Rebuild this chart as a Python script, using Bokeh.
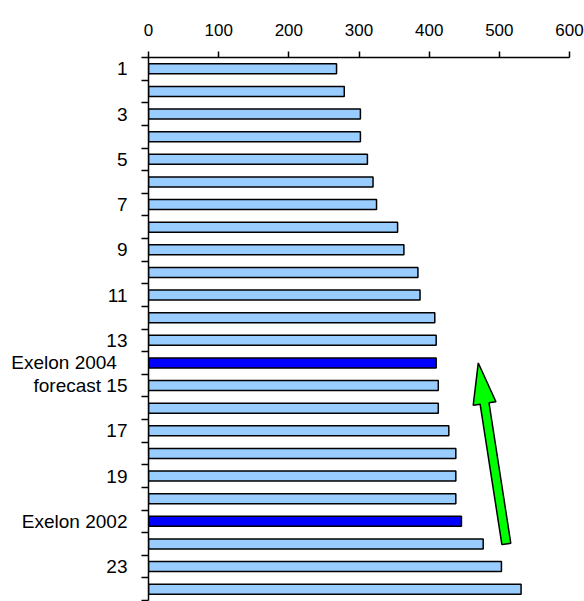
from bokeh.plotting import figure
from bokeh.models import Range1d, FixedTicker
from bokeh.embed import file_html
from bokeh.resources import INLINE
import numpy as np

# Ranked values (rank 1 at the top)
ranks = list(range(1, 25))
values = [268, 279, 302, 302, 312, 320, 325, 355, 364, 384, 387, 408,
          410, 410, 413, 413, 428, 438, 438, 438, 446, 477, 503, 531]
highlight_ranks = [14, 21]          # Exelon entries
labelled_ranks = [1, 3, 5, 7, 9, 11, 13, 14, 15, 17, 19, 21, 23]
rank_labels = {14: "Exelon 2004\u00a0\u00a0", 15: "forecast 15", 21: "Exelon 2002"}
value_ticks = [0, 100, 200, 300, 400, 500, 600]

# Trend arrow, from (value, rank) to (value, rank)
arrow_tail = (510, 22.0)
arrow_tip = (470, 14.0)

FONT = "Liberation Sans"
LIGHT = "#99CCFF"
DARK = "#0000FF"

W, H = 584, 601
LEFT, RIGHT, TOP, BOTTOM = 148, 15, 57, 1

p = figure(width=W, height=H, output_backend="svg", toolbar_location=None,
           x_range=Range1d(0, 600), y_range=Range1d(24.5, 0.5),
           x_axis_location="above",
           min_border_left=LEFT, min_border_right=RIGHT,
           min_border_top=TOP, min_border_bottom=BOTTOM)
p.outline_line_color = None
p.xgrid.visible = False
p.ygrid.visible = False
p.background_fill_color = "white"
p.border_fill_color = "white"

colors = [DARK if r in highlight_ranks else LIGHT for r in ranks]
p.hbar(y=ranks, left=0, right=values, height=0.44,
       fill_color=colors, line_color="black", line_width=1.5)

# arrow outline built in pixel space, then mapped back to data units
sx = (W - LEFT - RIGHT) / 600.0
sy = (H - TOP - BOTTOM) / 24.0
tail = np.array([arrow_tail[0] * sx, arrow_tail[1] * sy])
tip = np.array([arrow_tip[0] * sx, arrow_tip[1] * sy])
d = tip - tail
d = d / np.hypot(*d)
n = np.array([-d[1], d[0]])
head_len, head_half, shaft_half = 41.0, 11.5, 4.5
base = tip - d * head_len
pts = [tail + n * shaft_half, base + n * shaft_half, base + n * head_half, tip,
       base - n * head_half, base - n * shaft_half, tail - n * shaft_half]
ax = [pt[0] / sx for pt in pts]
ay = [pt[1] / sy for pt in pts]
p.patch(ax, ay, fill_color="#00FF00", line_color="black", line_width=1.5)

# value axis on top
xa = p.xaxis[0]
xa.ticker = FixedTicker(ticks=value_ticks)
xa.axis_line_color = "black"
xa.axis_line_width = 1.5
xa.major_tick_line_color = "black"
xa.major_tick_line_width = 1.5
xa.major_tick_out = 6
xa.major_tick_in = 0
xa.minor_tick_line_color = None
xa.major_label_text_font = FONT
xa.major_label_text_font_size = "17px"
xa.major_label_text_color = "black"
xa.major_label_standoff = 16

# rank axis on the left: labels at ranks, ticks between ranks
ya = p.yaxis[0]
ya.ticker = FixedTicker(ticks=labelled_ranks,
                        minor_ticks=[r - 0.5 for r in ranks] + [ranks[-1] + 0.5])
ya.major_label_overrides = {k: v for k, v in rank_labels.items()}
ya.axis_line_color = "black"
ya.axis_line_width = 1.5
ya.major_tick_out = 0
ya.major_tick_in = 0
ya.minor_tick_out = 7
ya.minor_tick_in = 0
ya.minor_tick_line_color = "black"
ya.minor_tick_line_width = 1.5
ya.major_label_text_font = FONT
ya.major_label_text_font_size = "19px"
ya.major_label_text_color = "black"
ya.major_label_standoff = 14

open("out.html", "w").write(file_html(p, INLINE))
